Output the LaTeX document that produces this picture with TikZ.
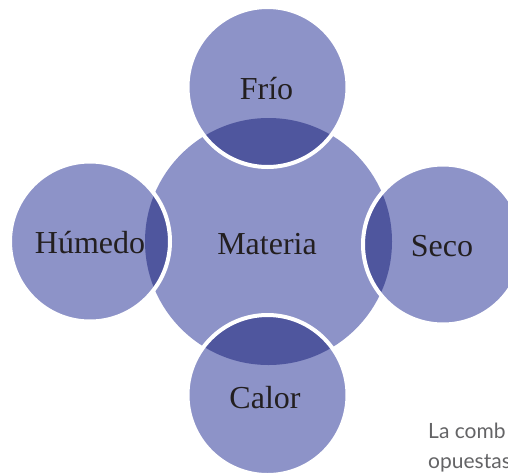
\documentclass[tikz,border=0pt]{standalone}
\usepackage{fontspec}
\setmainfont{Liberation Serif}
\newfontfamily\capfont{Lato}
\definecolor{lightc}{RGB}{141,147,200}
\definecolor{darkc}{RGB}{79,86,158}
\definecolor{txt}{RGB}{35,31,32}
\definecolor{captxt}{RGB}{100,100,102}
\tikzset{
  lbl/.style={anchor=base, text=txt, font=\fontsize{32}{36}\selectfont, inner sep=0pt},
  captionlbl/.style={anchor=base west, text=captxt, font=\capfont\fontsize{21}{24}\selectfont, inner sep=0pt},
  ring/.style={draw=white, line width=4pt}
}
\begin{document}
\begin{tikzpicture}[x=1pt,y=-1pt]
\useasboundingbox (0,0) rectangle (508,474);
\clip (0,0) rectangle (508,474);
% centre
\coordinate (c) at (268.5,241.5);
\fill[lightc] (c) circle[radius=123.5];
% outer circles
\foreach \n/\px/\py in {fr/267.5/87, hu/90/241.5, se/443/244.5, ca/267.5/395}{
  \coordinate (\n) at (\px,\py);
  \fill[lightc] (\n) circle[radius=80];
  \begin{scope}
    \clip (\n) circle[radius=80];
    \fill[darkc] (c) circle[radius=123.5];
  \end{scope}
  \draw[ring] (\n) circle[radius=80];
}
\node[lbl] (tfr) at (266.5,99) {Frío};
\node[lbl] (tma) at (267,254) {Materia};
\node[lbl] (thu) at (90,253) {Húmedo};
\node[lbl] (tse) at (442,256) {Seco};
\node[lbl] (tca) at (265,408) {Calor};
\node[captionlbl] (c1) at (428,438) {La comb};
\node[captionlbl] (c2) at (428,468) {opuestas};
\end{tikzpicture}
\end{document}
